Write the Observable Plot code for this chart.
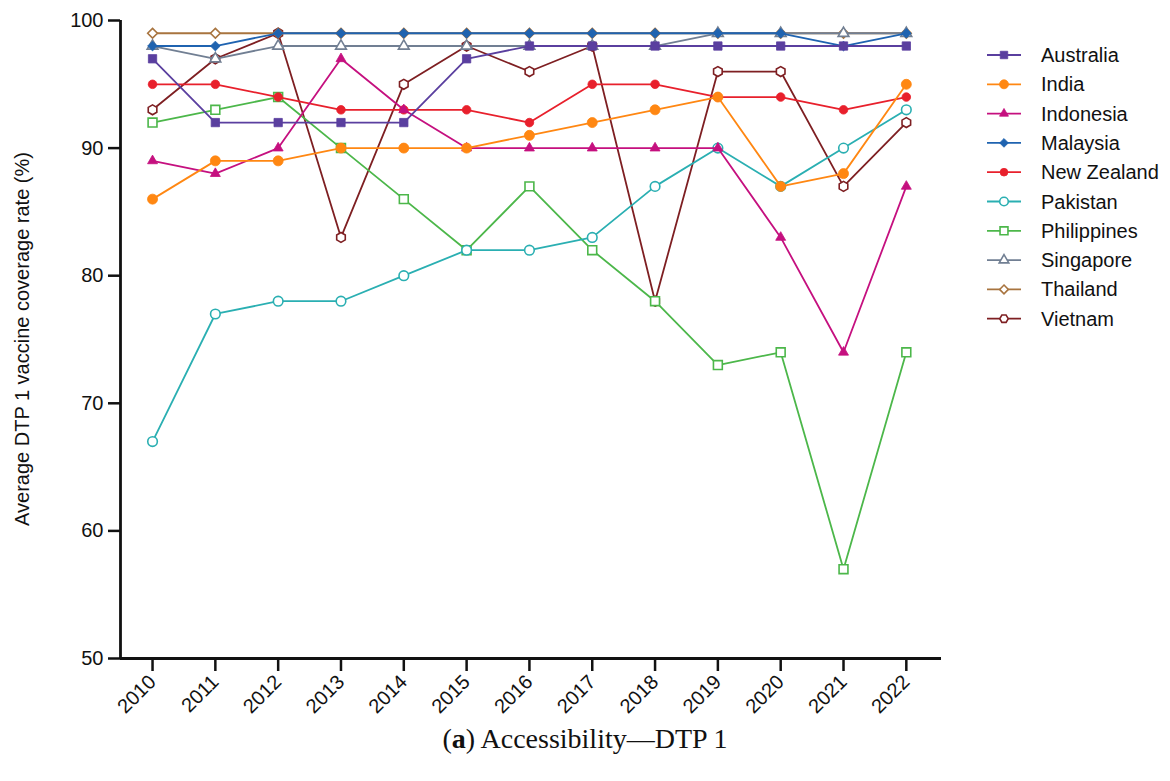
<!DOCTYPE html>
<html>
<head>
<meta charset="utf-8">
<script src="https://cdn.jsdelivr.net/npm/d3@7"></script>
<script src="https://cdn.jsdelivr.net/npm/@observablehq/plot@0.6"></script>
<style>
  html, body { margin: 0; padding: 0; background: #fff; }
  #wrap { position: relative; width: 1170px; height: 781px; }
  #caption { position: absolute; left: 0; top: 723px; width: 1170px; text-align: center;
    font-family: "Liberation Serif", "DejaVu Serif", serif; font-size: 28px; line-height: 32px; color: #111; }
</style>
</head>
<body>
<div id="wrap">
  <div id="chart"></div>
  <div id="caption">(<b>a</b>) Accessibility—DTP 1</div>
</div>
<script>
const years = [2010, 2011, 2012, 2013, 2014, 2015, 2016, 2017, 2018, 2019, 2020, 2021, 2022];
const countries = ["Australia", "India", "Indonesia", "Malaysia", "New Zealand", "Pakistan", "Philippines", "Singapore", "Thailand", "Vietnam"];

const australia   = [97, 92, 92, 92, 92, 97, 98, 98, 98, 98, 98, 98, 98];
const india       = [86, 89, 89, 90, 90, 90, 91, 92, 93, 94, 87, 88, 95];
const indonesia   = [89, 88, 90, 97, 93, 90, 90, 90, 90, 90, 83, 74, 87];
const malaysia    = [98, 98, 99, 99, 99, 99, 99, 99, 99, 99, 99, 98, 99];
const newZealand  = [95, 95, 94, 93, 93, 93, 92, 95, 95, 94, 94, 93, 94];
const pakistan    = [67, 77, 78, 78, 80, 82, 82, 83, 87, 90, 87, 90, 93];
const philippines = [92, 93, 94, 90, 86, 82, 87, 82, 78, 73, 74, 57, 74];
const singapore   = [98, 97, 98, 98, 98, 98, 98, 98, 98, 99, 99, 99, 99];
const thailand    = [99, 99, 99, 99, 99, 99, 99, 99, 99, 99, 99, 99, 99];
const vietnam     = [93, 97, 99, 83, 95, 98, 96, 98, 78, 96, 96, 87, 92];

const yTicks = [50, 60, 70, 80, 90, 100];
const yLabel = "Average DTP 1 vaccine coverage rate (%)";

const seriesValues = [australia, india, indonesia, malaysia, newZealand, pakistan, philippines, singapore, thailand, vietnam];

// styles
const styles = {
  "Australia":   {color: "#5a3f9f", symbol: "square",   open: false, r: 4.7},
  "India":       {color: "#ff8712", symbol: "circle",   open: false, r: 5.0},
  "Indonesia":   {color: "#c5107f", symbol: "triangle", open: false, r: 3.7},
  "Malaysia":    {color: "#1f63b0", symbol: "diamond2", open: false, r: 4.4},
  "New Zealand": {color: "#e8202c", symbol: "circle",   open: false, r: 4.3},
  "Pakistan":    {color: "#2aafb2", symbol: "circle",   open: true,  r: 4.8},
  "Philippines": {color: "#4cb74a", symbol: "square",   open: true,  r: 5.0},
  "Singapore":   {color: "#717f93", symbol: "triangle", open: true,  r: 4.0},
  "Thailand":    {color: "#a8743f", symbol: "diamond2", open: true,  r: 4.4},
  "Vietnam":     {color: "#7e1f22", symbol: "hexagon",  open: true,  r: 4.3}
};

const rows = [];
countries.forEach((c, i) => years.forEach((yr, j) => rows.push({country: c, year: yr, value: seriesValues[i][j]})));

const xDomain = [2009.49, 2022.56];

const marks = [];
[...countries].reverse().forEach(c => {
  const s = styles[c];
  const data = rows.filter(d => d.country === c);
  marks.push(Plot.line(data, {x: "year", y: "value", stroke: s.color, strokeWidth: 1.8}));
  marks.push(Plot.dot(data, {
    x: "year", y: "value", symbol: () => s.symbol, r: s.r,
    fill: s.open ? "white" : s.color,
    stroke: s.color, strokeWidth: s.open ? 1.6 : 0.8
  }));
});

const chart = Plot.plot({
  width: 1170,
  height: 722,
  marginLeft: 120,
  marginRight: 229,
  marginTop: 20,
  marginBottom: 64,
  style: {fontFamily: "'Liberation Sans', Arial, sans-serif", color: "#111", background: "white"},
  x: {type: "linear", domain: xDomain},
  y: {domain: [50, 100]},
  symbol: {type: "identity"},
  marks: [
    Plot.axisY({ticks: yTicks, tickSize: 12, tickPadding: 5, fontSize: 20, strokeWidth: 2.5, label: null}),
    Plot.axisX({ticks: years, tickFormat: d => String(d), tickSize: 13, tickPadding: 7,
      tickRotate: -45, fontSize: 20, strokeWidth: 2.5, label: null}),
    ...marks,
    Plot.ruleX([xDomain[0]], {stroke: "#111", strokeWidth: 2.8}),
    Plot.ruleY([50], {stroke: "#111", strokeWidth: 2.8})
  ]
});

document.getElementById("chart").appendChild(chart);

const svg = d3.select(chart);

// Y axis title
svg.append("text")
  .attr("transform", "translate(29,339) rotate(-90)")
  .attr("text-anchor", "middle")
  .attr("font-family", "'Liberation Sans', Arial, sans-serif")
  .attr("font-size", 20)
  .attr("fill", "#111")
  .text(yLabel);

// Legend
const hexagon = {
  draw(ctx, size) {
    const r = Math.sqrt(size / (1.5 * Math.sqrt(3)));
    for (let k = 0; k < 6; k++) {
      const a = Math.PI / 6 + k * Math.PI / 3;
      const px = r * Math.sin(a), py = -r * Math.cos(a);
      k === 0 ? ctx.moveTo(px, py) : ctx.lineTo(px, py);
    }
    ctx.closePath();
  }
};
const symbolTypes = {square: d3.symbolSquare, circle: d3.symbolCircle, triangle: d3.symbolTriangle, diamond2: d3.symbolDiamond2, hexagon};
const lg = svg.append("g").attr("font-family", "'Liberation Sans', Arial, sans-serif").attr("font-size", 20)
  .attr("text-anchor", "start");
countries.forEach((c, i) => {
  const s = styles[c];
  const y = 55 + i * 29.3;
  const g = lg.append("g").attr("transform", `translate(0,${y})`);
  g.append("line").attr("x1", 987).attr("x2", 1021).attr("y1", 0).attr("y2", 0)
    .attr("stroke", s.color).attr("stroke-width", 1.8);
  g.append("path").attr("transform", "translate(1004,0)")
    .attr("d", d3.symbol(symbolTypes[s.symbol], Math.PI * s.r * s.r * 0.8)())
    .attr("fill", s.open ? "white" : s.color).attr("stroke", s.color).attr("stroke-width", s.open ? 1.6 : 0.8);
  g.append("text").attr("x", 1041).attr("y", 0).attr("dy", "0.35em").attr("text-anchor", "start")
    .attr("fill", "#111").text(c);
});
</script>
</body>
</html>
